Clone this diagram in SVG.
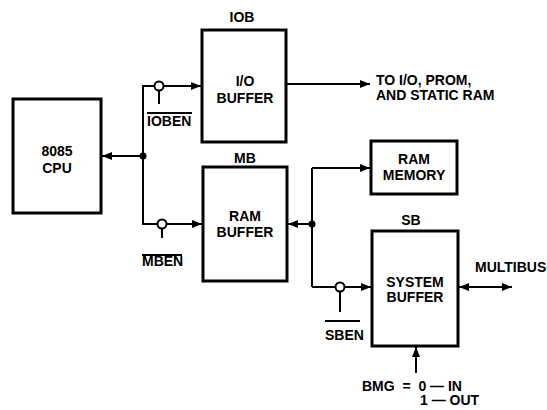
<svg xmlns="http://www.w3.org/2000/svg" width="547" height="410" viewBox="0 0 547 410">
<defs>
<style>
.box{fill:#fff;stroke:#000;stroke-width:3}
.ln{fill:none;stroke:#000;stroke-width:2}
.t{font-family:"Liberation Sans",Arial,sans-serif;font-weight:bold;font-size:14px;fill:#000}
.c{text-anchor:middle}
.bub{fill:#fff;stroke:#000;stroke-width:2}
.dot{fill:#000}
</style>
<marker id="ah" viewBox="0 0 10 8" refX="10" refY="4" markerWidth="10" markerHeight="8" markerUnits="userSpaceOnUse" orient="auto-start-reverse">
<path d="M0,0 L10,4 L0,8 z" fill="#000"/>
</marker>
</defs>
<rect width="547" height="410" fill="#fff"/>

<g id="cpu">
<rect class="box" x="13" y="99" width="88" height="114"/>
<text class="t c" x="57" y="156">8085</text>
<text class="t c" x="57" y="173">CPU</text>
</g>

<g id="iob">
<text class="t c" x="242" y="22">IOB</text>
<rect class="box" x="202" y="30" width="84" height="112"/>
<text class="t c" x="245" y="86">I/O</text>
<text class="t c" x="245" y="103">BUFFER</text>
</g>

<g id="mb">
<text class="t c" x="245" y="163">MB</text>
<rect class="box" x="203" y="167" width="84" height="114"/>
<text class="t c" x="245" y="221">RAM</text>
<text class="t c" x="245" y="237">BUFFER</text>
</g>

<g id="ram">
<rect class="box" x="371" y="141" width="86" height="53"/>
<text class="t c" x="414" y="164">RAM</text>
<text class="t c" x="414" y="180">MEMORY</text>
</g>

<g id="sb">
<text class="t c" x="411" y="225">SB</text>
<rect class="box" x="372" y="231" width="86" height="115"/>
<text class="t c" x="415" y="287">SYSTEM</text>
<text class="t c" x="415" y="302">BUFFER</text>
</g>

<g id="labels">
<text class="t" x="376" y="85">TO I/O, PROM,</text>
<text class="t" x="376" y="100">AND STATIC RAM</text>
<text class="t" x="475" y="272">MULTIBUS</text>
<text class="t" x="147" y="126">IOBEN</text>
<line class="ln" x1="147" y1="113" x2="192" y2="113" stroke-width="1.3"/>
<text class="t" x="142" y="266">MBEN</text>
<line class="ln" x1="142" y1="255" x2="182" y2="255" stroke-width="1.3"/>
<text class="t" x="325" y="340">SBEN</text>
<line class="ln" x1="325" y1="321" x2="360" y2="321" stroke-width="1.3"/>
<text class="t" x="362" y="391" xml:space="preserve">BMG  =  0 — IN</text>
<text class="t" x="420" y="405" xml:space="preserve">1 — OUT</text>
</g>

<g id="connectors">
<line class="ln" x1="143" y1="86" x2="143" y2="224"/>
<line class="ln" x1="143" y1="156" x2="102" y2="156" marker-end="url(#ah)"/>
<polyline class="ln" points="143,87 143,86 201,86" marker-end="url(#ah)"/>
<polyline class="ln" points="143,223 143,224 202,224" marker-end="url(#ah)"/>
<line class="ln" x1="286" y1="84" x2="370" y2="84" marker-end="url(#ah)"/>
<line class="ln" x1="312" y1="168" x2="312" y2="287"/>
<line class="ln" x1="312" y1="224" x2="288" y2="224" marker-end="url(#ah)"/>
<line class="ln" x1="312" y1="168" x2="370" y2="168" marker-end="url(#ah)"/>
<line class="ln" x1="312" y1="287" x2="371" y2="287" marker-end="url(#ah)"/>
<line class="ln" x1="459" y1="287" x2="512" y2="287" marker-start="url(#ah)" marker-end="url(#ah)"/>
<line class="ln" x1="416" y1="373" x2="416" y2="347" marker-end="url(#ah)"/>
<line class="ln" x1="159" y1="86" x2="159" y2="104"/>
<line class="ln" x1="162" y1="224" x2="162" y2="238"/>
<line class="ln" x1="340" y1="287" x2="340" y2="312"/>
<circle class="bub" cx="159" cy="86" r="4.5"/>
<circle class="bub" cx="162" cy="224" r="4.5"/>
<circle class="bub" cx="340" cy="287" r="4.5"/>
<circle class="dot" cx="143" cy="156" r="3.5"/>
<circle class="dot" cx="312" cy="224" r="3.5"/>
</g>
</svg>
